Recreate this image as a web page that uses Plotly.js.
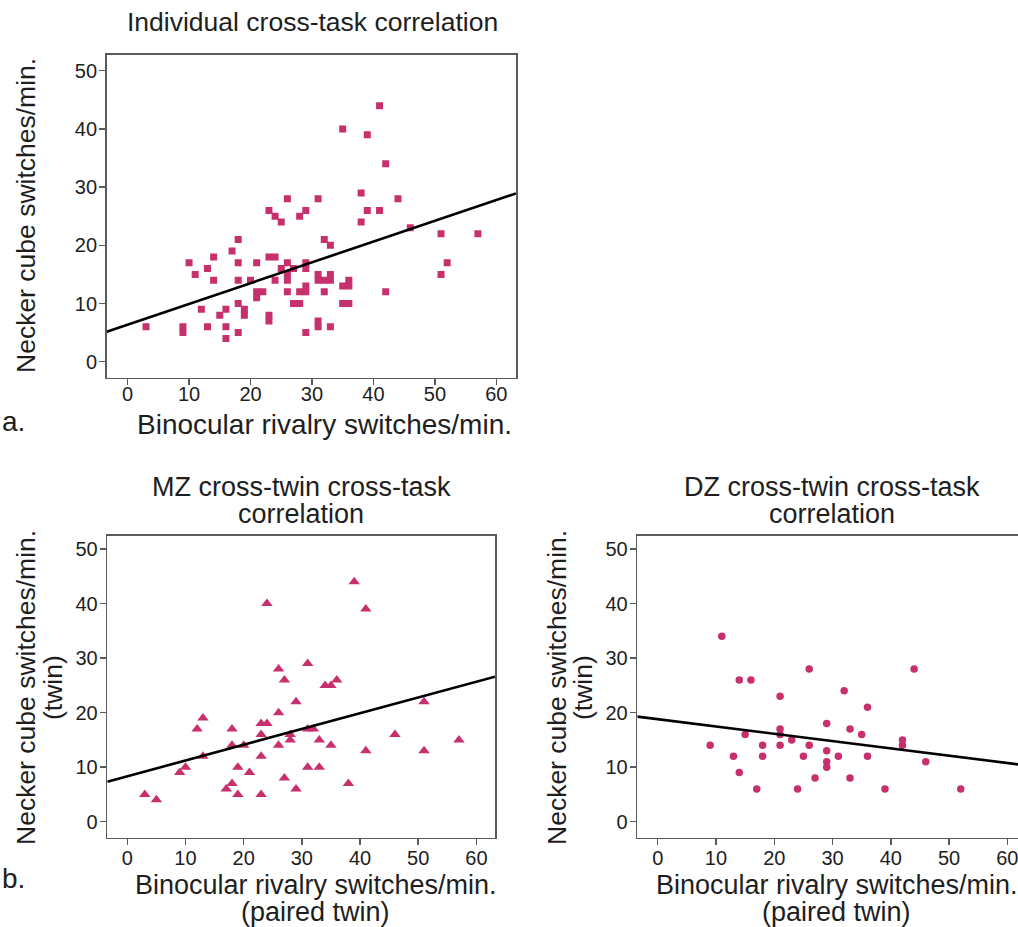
<!DOCTYPE html>
<html>
<head>
<meta charset="utf-8">
<script src="https://cdn.plot.ly/plotly-3.0.1.min.js"></script>
<style>
html,body{margin:0;padding:0;overflow:hidden;background:#fff;}
#chart{width:1060px;height:927px;}
</style>
</head>
<body>
<div id="chart"></div>
<script>
// ---------- data ----------
const indivX = [41,35,39,42,31,38,44,39,41,38,26,23,24,25,28,29,
  18,17,10,14,13,11,14,18,18,20,21,23,24,26,25,27,29,29,26,26,24,21,22,21,26,28,29,29,27,28,12,15,16,18,19,19,23,23,3,9,9,13,16,16,18,29,
  46,51,57,32,33,52,51,31,31,32,33,33,32,35,36,36,35,36,42,31,31,33];
const indivY = [44,40,39,34,28,29,28,26,26,24,28,26,25,24,25,26,
  21,19,17,18,16,15,14,17,14,14,17,18,18,17,16,16,17,16,15,14,14,12,12,11,12,12,13,12,10,10,9,8,9,10,9,8,8,7,6,6,5,6,6,4,5,5,
  23,22,22,21,20,17,15,15,14,14,15,14,12,13,14,13,10,10,12,7,6,6];

const mzX = [24,26,27,39,41,31,34,35,36,29,26,13,12,18,23,24,23,26,28,28,18,20,13,23,10,9,19,21,27,29,18,17,19,23,3,5,51,31,32,33,35,46,57,41,51,31,33,38];
const mzY = [40,28,26,44,39,29,25,25,26,22,20,19,17,17,18,18,16,14,16,15,14,14,12,12,10,9,10,9,8,6,7,6,5,5,5,4,22,17,17,15,14,16,15,13,13,10,10,7];

const dzX = [11,14,16,26,21,21,21,15,23,9,18,21,26,13,18,25,14,27,17,24,44,32,36,29,33,35,42,42,29,31,36,29,29,33,46,39,52];
const dzY = [34,26,26,28,23,17,16,16,15,14,14,14,14,12,12,12,9,8,6,6,28,24,21,18,17,16,15,14,13,12,12,11,10,8,11,6,6];

// regression lines: [intercept, slope]
const fitIndiv = [6.36, 0.357];
const fitMZ = [8.33, 0.289];
const fitDZ = [18.8, -0.134];

const yTicks = [0,10,20,30,40,50];
const xTicks = [0,10,20,30,40,50,60];

const titleTop = 'Individual cross-task correlation';
const titleMZ = ['MZ cross-twin cross-task','correlation'];
const titleDZ = ['DZ cross-twin cross-task','correlation'];
const yTitle = 'Necker cube switches/min.';
const yTitle2 = '(twin)';
const xTitle = 'Binocular rivalry switches/min.';
const xTitle2 = '(paired twin)';

// ---------- layout helpers ----------
const W = 1060, H = 927;
const px = x => x / W;
const py = y => 1 - y / H;

const markerColor = '#C7306C';
const frameColor = '#5a5a5a';
const textColor = '#1e1e1e';
const FONT = 'Liberation Sans, Arial, Helvetica, sans-serif';

const rTop = {x:[-3.4,63.2], y:[-2.75,52.7]};
const rMZ = {x:[-3.44,63.2], y:[-2.94,52.4]};
const rDZ = {x:[-3.5,63.2], y:[-2.94,52.4]};

function fitTrace(fit, range, xa, ya){
  return {x:[range[0], range[1]], y:[fit[0]+fit[1]*range[0], fit[0]+fit[1]*range[1]],
    mode:'lines', line:{color:'#000', width:2.6}, xaxis:xa, yaxis:ya, hoverinfo:'skip', showlegend:false};
}

const traces = [
  {x:indivX, y:indivY, mode:'markers', marker:{symbol:'square', size:7, color:markerColor}, xaxis:'x', yaxis:'y', showlegend:false},
  fitTrace(fitIndiv, rTop.x, 'x', 'y'),
  {x:mzX, y:mzY, mode:'markers', marker:{symbol:'triangle-up', size:10, color:markerColor}, xaxis:'x2', yaxis:'y2', showlegend:false},
  fitTrace(fitMZ, rMZ.x, 'x2', 'y2'),
  {x:dzX, y:dzY, mode:'markers', marker:{symbol:'circle', size:7.5, color:markerColor}, xaxis:'x3', yaxis:'y3', showlegend:false},
  fitTrace(fitDZ, rDZ.x, 'x3', 'y3')
];

function xAxis(domain, range, anchor, standoff){
  return {domain:domain, range:range, anchor:anchor, tickvals:xTicks, ticks:'outside', ticklen:6, tickwidth:1.5,
    tickcolor:frameColor, showline:true, linecolor:frameColor, linewidth:1.6, mirror:true, showgrid:false, zeroline:false,
    ticklabelstandoff:standoff,
    tickfont:{family:FONT, size:20, color:textColor}};
}
function yAxis(domain, range, anchor){
  return {domain:domain, range:range, anchor:anchor, tickvals:yTicks, ticks:'outside', ticklen:6, tickwidth:1.5,
    tickcolor:frameColor, showline:true, linecolor:frameColor, linewidth:1.6, mirror:true, showgrid:false, zeroline:false,
    ticklabelstandoff:-2,
    tickfont:{family:FONT, size:20, color:textColor}};
}

function ann(text, x, y, size, angle, xanchor){
  return {text:text, x:px(x), y:py(y), xref:'paper', yref:'paper', showarrow:false,
    xanchor:xanchor||'center', yanchor:'middle', textangle:angle||0,
    font:{family:FONT, size:size, color:textColor}};
}

const annotations = [
  ann(titleTop, 312, 22, 26.5),
  ann(yTitle, 26, 216, 26.5, -90),
  ann(xTitle, 324, 424, 28),
  ann('a.', 0, 421, 28, 0, 'left'),
  ann(titleMZ[0], 301, 487, 27),
  ann(titleMZ[1], 301, 514, 27),
  ann(yTitle, 26, 688, 26.5, -90),
  ann(yTitle2, 53, 688, 26.5, -90),
  ann(xTitle, 316, 885, 27),
  ann(xTitle2, 315, 912, 27),
  ann('b.', 0, 878, 28, 0, 'left'),
  ann(titleDZ[0], 832, 487, 27),
  ann(titleDZ[1], 832, 514, 27),
  ann(yTitle, 557, 688, 26.5, -90),
  ann(yTitle2, 583, 688, 26.5, -90),
  ann(xTitle, 837, 885, 27),
  ann(xTitle2, 836, 912, 27)
];

const layout = {
  width:W, height:H, margin:{l:0,r:0,t:0,b:0}, paper_bgcolor:'#fff', plot_bgcolor:'#fff',
  showlegend:false,
  xaxis: xAxis([px(106.7), px(516)], rTop.x, 'y', -8),
  yaxis: yAxis([py(377.7), py(55)], rTop.y, 'x'),
  xaxis2: xAxis([px(107.3), px(495)], rMZ.x, 'y2', -4),
  yaxis2: yAxis([py(837.7), py(536)], rMZ.y, 'x2'),
  xaxis3: xAxis([px(637.3), px(1026)], rDZ.x, 'y3', -4),
  yaxis3: yAxis([py(837.7), py(536)], rDZ.y, 'x3'),
  annotations: annotations
};

Plotly.newPlot('chart', traces, layout, {staticPlot:true, displayModeBar:false});
</script>
</body>
</html>
